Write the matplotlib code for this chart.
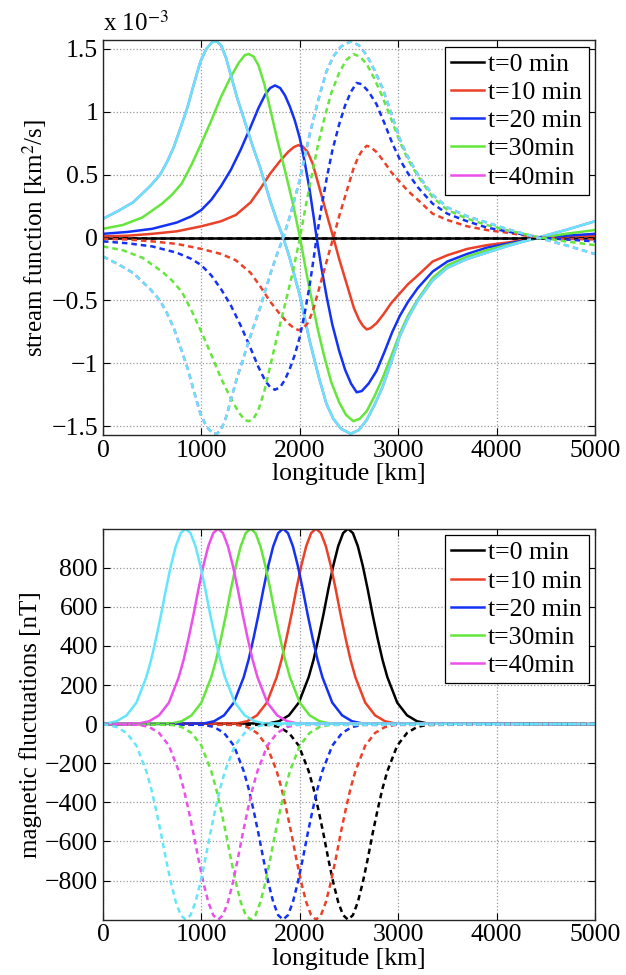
import numpy as np
import matplotlib
matplotlib.use("Agg")
import matplotlib.pyplot as plt
from matplotlib.ticker import FuncFormatter

plt.rcParams['font.family'] = ['Liberation Serif', 'DejaVu Serif']
plt.rcParams['mathtext.fontset'] = 'stix'

labels = ['t=0 min', 't=10 min', 't=20 min', 't=30min', 't=40min']
colors = ['black', '#eb4128', '#1432f5', '#64e63c', '#eb50eb', '#64e6fa']

# ---- top panel: stream function, values in units of 1e-3 km^2/s ----
psi_x0 = [0, 5000]
psi_y0 = [0.0, 0.0]

psi_x10 = [0, 250, 500, 750, 1000, 1200, 1350, 1500, 1600, 1700, 1800, 1880, 1940,
           1985, 2030, 2080, 2130, 2180, 2230, 2290, 2341, 2400, 2450, 2500, 2550,
           2600, 2640, 2680, 2720, 2780, 2850, 2930, 3020, 3100, 3200, 3350, 3500,
           3700, 3900, 4100, 4300, 4450, 4700, 5000]
psi_y10 = [0.01, 0.015, 0.03, 0.05, 0.09, 0.13, 0.18, 0.28, 0.39, 0.51, 0.61, 0.68,
           0.72, 0.735, 0.725, 0.68, 0.59, 0.45, 0.31, 0.14, 0.0, -0.17, -0.30,
           -0.43, -0.56, -0.65, -0.70, -0.73, -0.72, -0.68, -0.61, -0.52, -0.44,
           -0.37, -0.30, -0.19, -0.14, -0.09, -0.06, -0.04, -0.015, 0.0, 0.01, 0.015]

psi_x20 = [0, 250, 500, 750, 900, 1000, 1100, 1200, 1300, 1400, 1500, 1580, 1650,
           1700, 1748, 1800, 1850, 1900, 1950, 2000, 2050, 2100, 2140, 2171, 2220,
           2273, 2330, 2400, 2460, 2520, 2578, 2630, 2700, 2780, 2860, 2940, 3018,
           3100, 3200, 3350, 3500, 3700, 3900, 4100, 4300, 4450, 4700, 5000]
psi_y20 = [0.03, 0.045, 0.07, 0.12, 0.17, 0.22, 0.30, 0.41, 0.54, 0.70, 0.88, 1.03,
           1.14, 1.19, 1.21, 1.19, 1.13, 1.04, 0.93, 0.79, 0.60, 0.38, 0.17, 0.0,
           -0.24, -0.47, -0.69, -0.90, -1.05, -1.16, -1.23, -1.22, -1.16, -1.06,
           -0.91, -0.75, -0.62, -0.51, -0.40, -0.27, -0.19, -0.13, -0.08, -0.05,
           -0.02, 0.0, 0.015, 0.03]

psi_x30 = [0, 200, 400, 600, 700, 800, 900, 1000, 1100, 1200, 1300, 1380, 1440,
           1480, 1530, 1580, 1640, 1700, 1780, 1860, 1930, 2002, 2060, 2110, 2180,
           2250, 2320, 2400, 2470, 2544, 2610, 2680, 2760, 2840, 2920, 3018, 3100,
           3200, 3350, 3500, 3700, 3900, 4100, 4300, 4450, 4700, 5000]
psi_y30 = [0.07, 0.10, 0.16, 0.27, 0.34, 0.43, 0.58, 0.75, 0.93, 1.12, 1.28, 1.39,
           1.45, 1.46, 1.44, 1.37, 1.22, 1.02, 0.75, 0.50, 0.27, 0.0, -0.25, -0.45,
           -0.72, -0.95, -1.15, -1.31, -1.41, -1.46, -1.44, -1.38, -1.26, -1.12,
           -0.96, -0.76, -0.62, -0.49, -0.32, -0.22, -0.15, -0.10, -0.06, -0.025,
           0.0, 0.03, 0.06]

psi_x40 = [0, 150, 305, 400, 480, 580, 650, 720, 800, 860, 920, 990, 1050, 1110,
           1155, 1200, 1250, 1300, 1360, 1430, 1520, 1600, 1700, 1770, 1832, 1900,
           2000, 2100, 2190, 2270, 2340, 2420, 2517, 2600, 2680, 2760, 2840, 2920,
           3018, 3100, 3200, 3350, 3500, 3700, 3900, 4100, 4300, 4420, 4700, 5000]
psi_y40 = [0.15, 0.21, 0.28, 0.35, 0.41, 0.50, 0.60, 0.72, 0.90, 1.04, 1.21, 1.40,
           1.50, 1.555, 1.56, 1.53, 1.43, 1.29, 1.12, 0.95, 0.73, 0.55, 0.29, 0.13,
           0.0, -0.17, -0.46, -0.82, -1.10, -1.32, -1.44, -1.52, -1.56, -1.53, -1.45,
           -1.33, -1.19, -1.01, -0.78, -0.64, -0.50, -0.34, -0.24, -0.17, -0.12,
           -0.07, -0.025, 0.0, 0.06, 0.13]

# last (cyan) curve lies on top of the t=40 curve
psi_x50 = psi_x40
psi_y50 = psi_y40

# ---- bottom panel: magnetic fluctuations [nT] ----
pulse_nT = [0, 4, 15, 45, 110, 240, 330, 440, 560, 690, 810, 910, 977, 1000, 977,
            910, 810, 690, 560, 440, 330, 240, 110, 45, 15, 4, 0]

b_x0 = [0, 1690, 1790, 1890, 1990, 2090, 2140, 2190, 2240, 2290, 2340, 2390, 2440,
        2490, 2540, 2590, 2640, 2690, 2740, 2790, 2840, 2890, 2990, 3090, 3190, 3290,
        5000]
b_x10 = [0, 1365, 1465, 1565, 1665, 1765, 1815, 1865, 1915, 1965, 2015, 2065, 2115,
         2165, 2215, 2265, 2315, 2365, 2415, 2465, 2515, 2565, 2665, 2765, 2865, 2965,
         5000]
b_x20 = [0, 1030, 1130, 1230, 1330, 1430, 1480, 1530, 1580, 1630, 1680, 1730, 1780,
         1830, 1880, 1930, 1980, 2030, 2080, 2130, 2180, 2230, 2330, 2430, 2530, 2630,
         5000]
b_x30 = [0, 700, 800, 900, 1000, 1100, 1150, 1200, 1250, 1300, 1350, 1400, 1450,
         1500, 1550, 1600, 1650, 1700, 1750, 1800, 1850, 1900, 2000, 2100, 2200, 2300,
         5000]
b_x40 = [0, 370, 470, 570, 670, 770, 820, 870, 920, 970, 1020, 1070, 1120, 1170,
         1220, 1270, 1320, 1370, 1420, 1470, 1520, 1570, 1670, 1770, 1870, 1970, 5000]
b_x50 = [0, 40, 140, 240, 340, 440, 490, 540, 590, 640, 690, 740, 790, 840, 890,
         940, 990, 1040, 1090, 1140, 1190, 1240, 1340, 1440, 1540, 1640, 5000]

top_x = [psi_x0, psi_x10, psi_x20, psi_x30, psi_x40, psi_x50]
top_y = [psi_y0, psi_y10, psi_y20, psi_y30, psi_y40, psi_y50]
bot_x = [b_x0, b_x10, b_x20, b_x30, b_x40, b_x50]
bot_y = [pulse_nT] * 6

FS = 18.5
LW = 1.8


def fmt(v, pos):
    s = '%g' % v
    return s.replace('-', '\u2212')


def style(ax):
    ax.set_xlim(0, 5000)
    ax.set_xticks([0, 1000, 2000, 3000, 4000, 5000])
    ax.tick_params(direction='in', top=True, right=True, labelsize=FS, length=5,
                   width=0.8, pad=3.5)
    ax.grid(True, linestyle=':', color='0.6', linewidth=0.9)
    ax.set_axisbelow(True)
    ax.yaxis.set_major_formatter(FuncFormatter(fmt))
    for sp in ax.spines.values():
        sp.set_linewidth(1.0)
        sp.set_color('0.15')
    ax.set_xlabel('longitude [km]', fontsize=18.5, labelpad=1)


def draw(ax, xs, ys):
    handles = []
    for i in range(6):
        y = np.array(ys[i])
        h, = ax.plot(xs[i], y, color=colors[i], lw=LW)
        handles.append(h)
    for i in range(6):
        y = np.array(ys[i])
        ax.plot(xs[i], -y, color=colors[i], lw=LW, linestyle=(0, (2.2, 1.6)))
    leg = ax.legend(handles[:5], labels, loc='upper right', fontsize=18.5,
                    handlelength=1.3, handletextpad=0.15, labelspacing=0.2,
                    borderpad=0.25, borderaxespad=0.25, fancybox=False,
                    framealpha=1, edgecolor='black')
    leg.get_frame().set_linewidth(0.9)


fig = plt.figure(figsize=(6.26, 9.75), dpi=100)
ax1 = fig.add_axes([0.1645, 0.5538, 0.786, 0.405])
ax2 = fig.add_axes([0.1645, 0.0568, 0.786, 0.401])

draw(ax1, top_x, top_y)
style(ax1)
ax1.set_ylim(-1.57, 1.57)
ax1.set_yticks([-1.5, -1, -0.5, 0, 0.5, 1, 1.5])
ax1.set_ylabel('stream function [km$^2$/s]', fontsize=18, labelpad=2)
ax1.text(0.0, 1.012, 'x 10$^{-3}$', transform=ax1.transAxes, fontsize=18,
         ha='left', va='bottom')

draw(ax2, bot_x, bot_y)
style(ax2)
ax2.set_ylim(-1000, 1000)
ax2.set_yticks([-800, -600, -400, -200, 0, 200, 400, 600, 800])
ax2.set_ylabel('magnetic fluctuations [nT]', fontsize=18, labelpad=2)

fig.savefig('out.png', dpi=100)
